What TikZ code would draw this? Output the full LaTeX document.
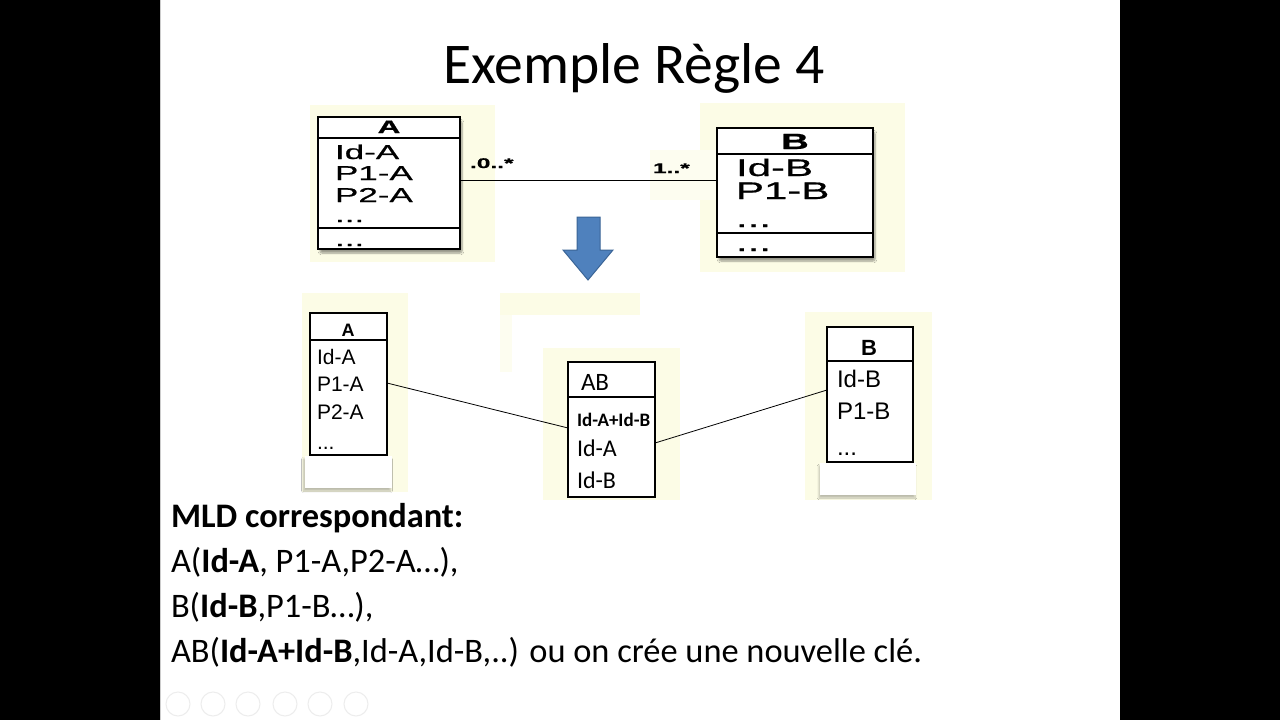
\documentclass[tikz,border=0pt]{standalone}
\usepackage{fontspec}
\setmainfont{Carlito}
\newfontfamily\arialw[FakeStretch=1.75,FakeBold=0.8]{Liberation Sans}
\newfontfamily\arial{Liberation Sans}
\usetikzlibrary{shadows.blur}
\definecolor{paley}{HTML}{FCFCE6}
\definecolor{arrowblue}{HTML}{4F81BD}
\definecolor{arrowline}{HTML}{3A6496}
\definecolor{icongray}{HTML}{EDEDED}
\tikzset{
  umlbox/.style={draw=black, line width=1.8pt, fill=white, inner sep=0pt,
    blur shadow={shadow xshift=2pt, shadow yshift=-4pt, shadow blur steps=6, shadow blur extra rounding=2pt}},
  umlboxb/.style={draw=black, line width=1.4pt, fill=white, inner sep=0pt},
  whitearea/.style={fill=white, blur shadow={shadow xshift=-1pt, shadow yshift=-3pt, shadow blur steps=8, shadow opacity=25}},
  pale/.style={fill=paley},
  topattrA/.style={anchor=base west, font=\arialw\fontsize{20}{24}\selectfont},
  topattrB/.style={anchor=base west, font=\arialw\fontsize{24}{28}\selectfont},
  tophead/.style={anchor=base, font=\arialw\bfseries\fontsize{18}{22}\selectfont},
  mult/.style={anchor=base west, font=\arialw\bfseries\fontsize{14}{16}\selectfont},
  botattr/.style={anchor=base west, font=\arial\fontsize{21}{25}\selectfont},
  botattrB/.style={anchor=base west, font=\arial\fontsize{24}{28}\selectfont},
  abattr/.style={anchor=base west, font=\fontsize{24}{28}\selectfont},
  mld/.style={anchor=base west, font=\fontsize{34.4}{40}\selectfont},
  icon/.style={draw=icongray, line width=1pt, circle, minimum size=24pt, inner sep=0pt},
  conn/.style={draw=black, line width=0.9pt}
}
\begin{document}
\begin{tikzpicture}[x=1pt,y=-1pt, every node/.style={inner sep=0pt, outer sep=0pt}]
\useasboundingbox (0,0) rectangle (1280,720);
\fill[black] (0,0) rectangle (160,720);
\fill[black] (1120,0) rectangle (1280,720);
\fill[white] (160,0) rectangle (1120,720);
\draw[gray!40, line width=0.8pt] (160.5,0) -- (160.5,720);

% title
\node[anchor=base] (title) at (634,83) {\fontsize{57.6}{68}\selectfont Exemple Règle 4};

% pale backgrounds (top)
\fill[pale] (310,105) rectangle (495,262);
\fill[pale] (700,103) rectangle (905,272);
\fill[paley!60] (650,150) rectangle (717,200);

% top box A
\node[umlbox, minimum width=142pt, minimum height=132pt] (tA) at (389,183) {};
\draw[line width=1.5pt] (tA.west |- 0,138) -- (tA.east |- 0,138);
\draw[line width=1.5pt] (tA.west |- 0,228) -- (tA.east |- 0,228);
\node[tophead] (tAh) at (389,133) {A};
\node[topattrA] (tA1) at (335,159) {Id-A};
\node[topattrA] (tA2) at (335,180) {P1-A};
\node[topattrA] (tA3) at (335,202) {P2-A};
\node[topattrA] (tA4) at (335,222) {...};
\node[topattrA] (tA5) at (335,246) {...};

% top box B
\node[umlbox, minimum width=156pt, minimum height=129pt] (tB) at (795,192.5) {};
\draw[line width=1.5pt] (tB.west |- 0,154) -- (tB.east |- 0,154);
\draw[line width=1.5pt] (tB.west |- 0,233) -- (tB.east |- 0,233);
\node[tophead, font=\arialw\bfseries\fontsize{22}{26}\selectfont] (tBh) at (795,149) {B};
\node[topattrB] (tB1) at (736,176) {Id-B};
\node[topattrB] (tB2) at (736,199) {P1-B};
\node[topattrB] (tB3) at (736,227) {...};
\node[topattrB] (tB4) at (736,251) {...};

% top association
\draw[conn] (tA.east |- 0,180) -- (tB.west |- 0,180);
\node[mult] (m1) at (470,168) {.0..*};
\node[mult] (m2) at (653,173) {1..*};

% blue arrow
\draw[fill=arrowblue, draw=arrowline, line width=1pt] (577,217) -- (600,217) -- (600,250) -- (613,250) -- (588,280) -- (563,250) -- (577,250) -- cycle;

% pale backgrounds (bottom)
\fill[pale] (302,293) rectangle (408,492);
\fill[pale] (500,293) rectangle (640,315);
\fill[paley!60] (500,315) rectangle (512,372);
\fill[pale] (543,348) rectangle (680,500);
\fill[pale] (805,312) rectangle (932,500);

% white areas under bottom boxes
\node[whitearea, minimum width=87pt, minimum height=32pt] (wA) at (348,472) {};
\node[whitearea, minimum width=96pt, minimum height=32pt] (wB) at (868,479) {};

% bottom box A
\node[umlboxb, minimum width=77pt, minimum height=142pt] (bA) at (348.5,384) {};
\draw[line width=1.2pt] (bA.west |- 0,340) -- (bA.east |- 0,340);
\node[anchor=base, font=\arial\bfseries\fontsize{18}{22}\selectfont] (bAh) at (348,336) {A};
\node[botattr] (bA1) at (317,364) {Id-A};
\node[botattr] (bA2) at (317,391) {P1-A};
\node[botattr] (bA3) at (317,419) {P2-A};
\node[botattr] (bA4) at (317,449) {...};

% bottom box AB
\node[umlboxb, minimum width=87pt, minimum height=135pt] (bAB) at (611.5,429.5) {};
\draw[line width=1.2pt] (bAB.west |- 0,397) -- (bAB.east |- 0,397);
\node[anchor=base west, font=\fontsize{25}{30}\selectfont] (bABh) at (581,390) {AB};
\node[anchor=base west, font=\bfseries\fontsize{19}{22}\selectfont] (bAB1) at (577,426) {Id-A+Id-B};
\node[abattr] (bAB2) at (577,456) {Id-A};
\node[abattr] (bAB3) at (577,488) {Id-B};

% bottom box B
\node[umlboxb, minimum width=86pt, minimum height=135pt] (bB) at (870,394.5) {};
\draw[line width=1.2pt] (bB.west |- 0,361) -- (bB.east |- 0,361);
\node[anchor=base, font=\arial\bfseries\fontsize{22}{26}\selectfont] (bBh) at (869,355) {B};
\node[botattrB] (bB1) at (837,387) {Id-B};
\node[botattrB] (bB2) at (837,419) {P1-B};
\node[botattrB] (bB3) at (837,455) {...};

% bottom connectors
\draw[line width=0.8pt] (bA.east |- 0,383) -- (bAB.west |- 0,428);
\draw[line width=0.8pt] (bAB.east |- 0,443) -- (bB.west |- 0,390);

% MLD text
\node[mld] (t1) at (171,527) {\textbf{MLD correspondant:}};
\node[mld] (t2) at (171,572) {A(\textbf{Id-A}, P1-A,P2-A…),};
\node[mld] (t3) at (171,617) {B(\textbf{Id-B},P1-B…),};
\node[mld] (t4) at (171,662) {AB(\textbf{Id-A+Id-B},Id-A,Id-B,..) ou on crée une nouvelle clé.};

% faint slide-show icons
\node[icon] (i1) at (178,704) {};
\node[icon] (i2) at (213,704) {};
\node[icon] (i3) at (248,704) {};
\node[icon] (i4) at (285,704) {};
\node[icon] (i5) at (320,704) {};
\node[icon] (i6) at (356,704) {};
\end{tikzpicture}
\end{document}
